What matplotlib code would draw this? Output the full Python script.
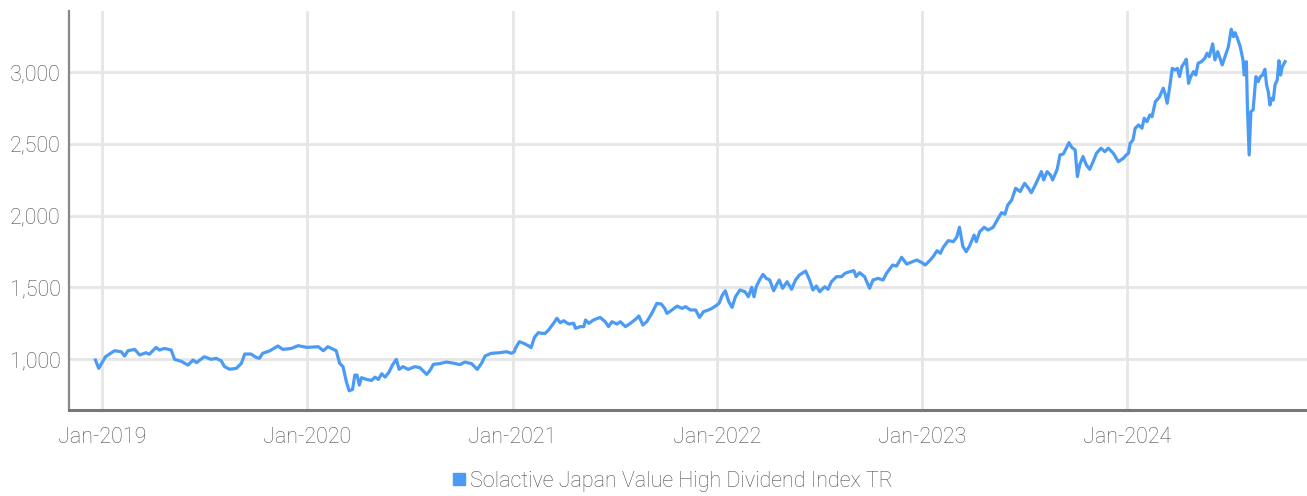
import matplotlib
matplotlib.use("Agg")
import matplotlib.pyplot as plt
from matplotlib.lines import Line2D
import pandas as pd

series_name = "Solactive Japan Value High Dividend Index TR"

dates = [
    "2018-12-20", "2018-12-26", "2018-12-31", "2019-01-07", "2019-01-23", "2019-02-04", "2019-02-10",
    "2019-02-16", "2019-02-28", "2019-03-09", "2019-03-20", "2019-03-26", "2019-04-07", "2019-04-13",
    "2019-04-22", "2019-05-04", "2019-05-10", "2019-05-22", "2019-06-03", "2019-06-12", "2019-06-18",
    "2019-07-02", "2019-07-14", "2019-07-23", "2019-08-01", "2019-08-07", "2019-08-16", "2019-08-28",
    "2019-09-06", "2019-09-12", "2019-09-23", "2019-10-02", "2019-10-08", "2019-10-14", "2019-10-26",
    "2019-11-10", "2019-11-19", "2019-12-04", "2019-12-16",
    "2020-01-01", "2020-01-21", "2020-01-30", "2020-02-07", "2020-02-22", "2020-02-28", "2020-03-05",
    "2020-03-11", "2020-03-16", "2020-03-22", "2020-03-26", "2020-03-30", "2020-04-03", "2020-04-07",
    "2020-04-16", "2020-04-25", "2020-05-01", "2020-05-07", "2020-05-13", "2020-05-19", "2020-05-26",
    "2020-06-01", "2020-06-08", "2020-06-13", "2020-06-20", "2020-06-29", "2020-07-11", "2020-07-20",
    "2020-08-01", "2020-08-07", "2020-08-13", "2020-08-24", "2020-09-05", "2020-09-17", "2020-09-29",
    "2020-10-08", "2020-10-20", "2020-10-30", "2020-11-07", "2020-11-13", "2020-11-24", "2020-12-09",
    "2020-12-21", "2020-12-30",
    "2021-01-04", "2021-01-06", "2021-01-13", "2021-01-21", "2021-01-30", "2021-02-03", "2021-02-09",
    "2021-02-16", "2021-02-22", "2021-02-28", "2021-03-06", "2021-03-15", "2021-03-21", "2021-03-27",
    "2021-04-02", "2021-04-11", "2021-04-20", "2021-04-23", "2021-05-02", "2021-05-08", "2021-05-11",
    "2021-05-17", "2021-05-25", "2021-06-06", "2021-06-15", "2021-06-21", "2021-06-27", "2021-07-06",
    "2021-07-12", "2021-07-21", "2021-07-30", "2021-08-08", "2021-08-14", "2021-08-21", "2021-08-28",
    "2021-09-06", "2021-09-15", "2021-09-23", "2021-09-29", "2021-10-03", "2021-10-12", "2021-10-21",
    "2021-10-30", "2021-11-05", "2021-11-14", "2021-11-23", "2021-11-30", "2021-12-07", "2021-12-16",
    "2021-12-22", "2021-12-31",
    "2022-01-04", "2022-01-09", "2022-01-15", "2022-01-21", "2022-01-27", "2022-02-02", "2022-02-10",
    "2022-02-19", "2022-02-25", "2022-03-03", "2022-03-07", "2022-03-11", "2022-03-17", "2022-03-23",
    "2022-03-29", "2022-04-04", "2022-04-11", "2022-04-16", "2022-04-21", "2022-04-27", "2022-05-05",
    "2022-05-13", "2022-05-20", "2022-05-27", "2022-06-07", "2022-06-14", "2022-06-20", "2022-06-26",
    "2022-07-02", "2022-07-11", "2022-07-17", "2022-07-23", "2022-08-01", "2022-08-10", "2022-08-16",
    "2022-08-25", "2022-09-01", "2022-09-05", "2022-09-11", "2022-09-20", "2022-09-29", "2022-10-05",
    "2022-10-14", "2022-10-23", "2022-10-29", "2022-11-09", "2022-11-16", "2022-11-25", "2022-12-04",
    "2022-12-13", "2022-12-22", "2022-12-31",
    "2023-01-06", "2023-01-15", "2023-01-21", "2023-01-27", "2023-02-02", "2023-02-07", "2023-02-16",
    "2023-02-25", "2023-03-03", "2023-03-08", "2023-03-14", "2023-03-20", "2023-03-26", "2023-04-03",
    "2023-04-07", "2023-04-13", "2023-04-21", "2023-04-28", "2023-05-07", "2023-05-16", "2023-05-22",
    "2023-05-28", "2023-06-02", "2023-06-09", "2023-06-16", "2023-06-24", "2023-07-02", "2023-07-09",
    "2023-07-14", "2023-07-21", "2023-08-01", "2023-08-05", "2023-08-11", "2023-08-17", "2023-08-21",
    "2023-08-29", "2023-09-03", "2023-09-09", "2023-09-15", "2023-09-19", "2023-09-24", "2023-09-30",
    "2023-10-04", "2023-10-08", "2023-10-14", "2023-10-20", "2023-10-26", "2023-11-01", "2023-11-07",
    "2023-11-15", "2023-11-22", "2023-11-28", "2023-12-07", "2023-12-16", "2023-12-25", "2023-12-30",
    "2024-01-03", "2024-01-06", "2024-01-11", "2024-01-15", "2024-01-21", "2024-01-27", "2024-01-31",
    "2024-02-05", "2024-02-10", "2024-02-14", "2024-02-20", "2024-02-27", "2024-03-05", "2024-03-08",
    "2024-03-12", "2024-03-17", "2024-03-21", "2024-03-26", "2024-03-30", "2024-04-03", "2024-04-07",
    "2024-04-11", "2024-04-15", "2024-04-19", "2024-04-23", "2024-04-28", "2024-05-02", "2024-05-06",
    "2024-05-12", "2024-05-18", "2024-05-22", "2024-05-26", "2024-06-01", "2024-06-05", "2024-06-10",
    "2024-06-14", "2024-06-18", "2024-06-25", "2024-06-29", "2024-07-04", "2024-07-08", "2024-07-11",
    "2024-07-15", "2024-07-20", "2024-07-25", "2024-07-27", "2024-07-31", "2024-08-02", "2024-08-05",
    "2024-08-08", "2024-08-12", "2024-08-17", "2024-08-21", "2024-08-25", "2024-08-29", "2024-09-02",
    "2024-09-05", "2024-09-08", "2024-09-11", "2024-09-14", "2024-09-17", "2024-09-20", "2024-09-24",
    "2024-09-27", "2024-09-30", "2024-10-03", "2024-10-08",
]

values = [
    993, 935, 970, 1016, 1058, 1051, 1021,
    1058, 1067, 1028, 1044, 1033, 1081, 1063,
    1074, 1063, 998, 984, 958, 993, 975,
    1016, 998, 1005, 988, 947, 929, 935,
    970, 1035, 1035, 1012, 1005, 1040, 1056,
    1091, 1067, 1074, 1093,
    1081, 1086, 1058, 1086, 1058, 970, 947,
    842, 779, 788, 888, 888, 819, 870,
    858, 851, 874, 858, 898, 874, 909,
    958, 998, 928, 947, 928, 947, 940,
    893, 921, 963, 968, 979, 972, 961,
    979, 968, 928, 972, 1021, 1040, 1044,
    1051, 1040,
    1051, 1074, 1121, 1109, 1091, 1079, 1151,
    1184, 1179, 1179, 1202, 1249, 1284, 1253,
    1267, 1244, 1249, 1214, 1226, 1226, 1272,
    1249, 1272, 1290, 1260, 1226, 1260, 1244,
    1260, 1226, 1249, 1277, 1300, 1237, 1260,
    1318, 1388, 1383, 1353, 1318, 1342, 1369,
    1353, 1365, 1342, 1342, 1290, 1330, 1342,
    1353, 1376,
    1390, 1440, 1476, 1400, 1360, 1434, 1481,
    1469, 1434, 1500, 1434, 1504, 1551, 1590,
    1562, 1551, 1476, 1516, 1551, 1493, 1539,
    1486, 1551, 1586, 1613, 1551, 1481, 1509,
    1469, 1504, 1486, 1539, 1574, 1574, 1597,
    1609, 1616, 1574, 1602, 1574, 1493, 1551,
    1562, 1551, 1597, 1655, 1648, 1709, 1662,
    1676, 1690, 1672,
    1655, 1690, 1718, 1755, 1737, 1778, 1825,
    1818, 1848, 1918, 1785, 1748, 1788, 1864,
    1818, 1887, 1918, 1899, 1918, 1981, 2020,
    2009, 2073, 2108, 2190, 2167, 2224, 2190,
    2159, 2213, 2306, 2248, 2306, 2283, 2248,
    2322, 2422, 2429, 2475, 2508, 2475, 2457,
    2271, 2352, 2411, 2352, 2322, 2375, 2434,
    2469, 2445, 2469, 2434, 2375, 2399, 2422,
    2434, 2503, 2526, 2608, 2631, 2608, 2678,
    2654, 2701, 2689, 2794, 2824, 2887, 2852,
    2782, 2910, 3026, 3014, 3026, 2968, 3037,
    3061, 3089, 2921, 2968, 3003, 2979, 3061,
    3072, 3096, 3131, 3107, 3196, 3084, 3142,
    3096, 3049, 3131, 3177, 3298, 3246, 3274,
    3235, 3177, 3084, 2979, 3072, 2736, 2422,
    2724, 2736, 2968, 2933, 2968, 2979, 3019,
    2910, 2863, 2770, 2817, 2805, 2910, 2945,
    3079, 2979, 3037, 3072,
]

y_ticks = [1000, 1500, 2000, 2500, 3000]
x_tick_dates = ["2019-01-01", "2020-01-01", "2021-01-01", "2022-01-01", "2023-01-01", "2024-01-01"]

LINE_COLOR = "#4b9bf5"
TEXT_COLOR = "#505050"
GRID_COLOR = "#e6e6e6"
FS = 15.5

plt.rcParams["font.family"] = ["Roboto", "DejaVu Sans"]

fig = plt.figure(figsize=(13.07, 4.96), dpi=100)
ax = fig.add_axes([0.0528, 0.1734, 0.9472, 0.8044])

x = pd.to_datetime(dates)
ax.plot(x, values, color=LINE_COLOR, lw=2.3, solid_joinstyle="round", zorder=3)

ax.set_ylim(645, 3425)
ax.set_xlim(pd.Timestamp("2018-11-03"), pd.Timestamp("2024-11-16"))
ax.set_yticks(y_ticks)
ax.set_yticklabels([f"{v:,}" for v in y_ticks])
xt = pd.to_datetime(x_tick_dates)
ax.set_xticks(xt)
ax.set_xticklabels([d.strftime("Jan-%Y") for d in xt])

ax.grid(True, color=GRID_COLOR, lw=2.0, zorder=0)
ax.set_axisbelow(True)
for side in ["top", "right"]:
    ax.spines[side].set_visible(False)
ax.spines["left"].set_color("#888888")
ax.spines["left"].set_linewidth(1.6)
ax.spines["bottom"].set_color("#777777")
ax.spines["bottom"].set_linewidth(2.2)

ax.tick_params(axis="both", length=0, labelcolor=TEXT_COLOR, labelsize=FS)
ax.tick_params(axis="y", pad=6)
ax.tick_params(axis="x", pad=12)
for lab in ax.get_xticklabels() + ax.get_yticklabels():
    lab.set_fontweight("light")

handle = Line2D([], [], marker="s", linestyle="none", color=LINE_COLOR, markersize=8)
leg = fig.legend([handle], [series_name], loc="center", bbox_to_anchor=(0.513, 0.03),
                 frameon=False, handletextpad=0.0, handlelength=1.0, prop={"size": FS, "weight": "light"})
for t in leg.get_texts():
    t.set_color(TEXT_COLOR)

fig.savefig("out.png", dpi=100)
